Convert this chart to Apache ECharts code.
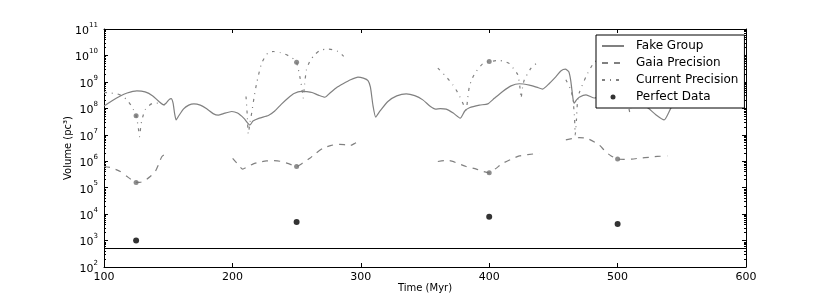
<!DOCTYPE html>
<html>
<head>
<meta charset="utf-8">
<script src="https://cdn.jsdelivr.net/npm/echarts@6/dist/echarts.min.js"></script>
<style>
html,body{margin:0;padding:0;background:#fff;}
#chart{width:830px;height:297px;}
</style>
</head>
<body>
<div id="chart"></div>
<script>
// ---- values (volumes given as log10 of pc^3) ----
const xTicks = [100, 200, 300, 400, 500, 600];
const yTickExponents = [2, 3, 4, 5, 6, 7, 8, 9, 10, 11];
const legendNames = ['Fake Group', 'Gaia Precision', 'Current Precision', 'Perfect Data'];

const fakeGroupLog = [
  [100,8.09],[106,8.28],[112,8.45],[118,8.58],[125.6,8.66],[132,8.62],[138,8.47],[143,8.25],
  [146.3,8.13],[148.5,8.2],[150.5,8.32],[152.3,8.37],[153.8,8.2],[155,7.8],[156.2,7.56],[158,7.7],
  [162,7.98],[166,8.12],[170,8.17],[175,8.12],[180,7.98],[185,7.8],[189,7.74],[193,7.8],
  [199.5,7.88],[204,7.82],[209,7.62],[213.7,7.37],[216,7.52],[221,7.63],[228,7.73],[233,7.9],
  [238,8.15],[243.4,8.39],[248,8.56],[253.8,8.64],[258,8.63],[262,8.6],[267,8.5],[272,8.42],
  [276,8.58],[281,8.78],[286.2,8.93],[292,9.08],[297.8,9.18],[302,9.14],[305.6,9.05],[307.5,8.8],
  [309.5,8.1],[311.6,7.67],[315,7.9],[321.1,8.26],[328,8.47],[335.4,8.55],[342,8.48],[348.3,8.32],
  [354,8.08],[358.2,7.97],[362,7.99],[366.5,7.97],[372,7.82],[377.4,7.63],[381,7.9],[384.6,8.02],
  [392.4,8.12],[398.9,8.17],[404,8.38],[410.5,8.64],[417,8.85],[423.5,8.93],[431.3,8.88],[437,8.8],
  [441.6,8.73],[447,8.95],[452,9.2],[456,9.42],[459.3,9.48],[462,9.38],[463.5,9.05],[465.4,8.32],
  [466.2,8.2],[468,8.32],[470.1,8.42],[475.4,8.51],[482,8.39],[490,8.6],[500,8.8],[510,8.5],
  [518,8.2],[524,8.0],[530,7.75],[536.2,7.56],[541.4,8.0],[548,8.5]
];

const gaiaSegmentsLog = [
  [[100,5.8],[106,5.75],[112.7,5.61],[118,5.42],[122,5.28],[125,5.2],[128,5.2],[132,5.28],
   [136,5.42],[139.9,5.61],[142.5,5.88],[145,6.17],[147,6.24],[149.4,6.22]],
  [[200.2,6.11],[204,5.9],[208,5.7],[212,5.8],[216.3,5.9],[221,5.97],[226.6,6.01],[232,6.02],
   [237,6.0],[243,5.92],[250,5.8],[255,5.94],[260.3,6.11],[265,6.3],[270.6,6.49],[277,6.6],
   [283.6,6.64],[288,6.62],[292,6.6],[295.5,6.68],[299,6.78]],
  [[360,5.99],[365,6.02],[369,6.02],[375,5.93],[382,5.8],[390,5.7],[395,5.62],[400.2,5.56],
   [405,5.72],[410.5,5.92],[417,6.07],[423.5,6.2],[430,6.25],[439,6.3]],
  [[459.7,6.81],[465,6.86],[470.1,6.89],[474,6.88],[477.8,6.83],[485.6,6.62],[490.8,6.35],
   [495,6.2],[499.8,6.08],[505,6.07],[511,6.08],[518,6.12],[524.5,6.15],[531,6.18],[538.7,6.2]]
];

const currentSegmentsLog = [
  [[100,8.6],[105,8.58],[110,8.55],[114,8.47],[117.9,8.32],[121,8.12],[123,7.94],[125,7.72],
   [126.5,7.35],[127.7,6.93],[128.5,7.25],[129.5,7.56],[132,7.94],[135,8.1],[138.5,8.2],
   [142,8.2],[145,8.16],[147.6,8.13]],
  [[210.6,8.45],[211.5,7.8],[212.4,7.03],[213.5,7.4],[215,7.82],[217,8.45],[218.9,8.95],
   [222.8,9.71],[227.9,10.11],[232,10.15],[237,10.11],[241,10.05],[244.8,9.96],[248,9.85],
   [250,9.74],[252.5,9.2],[254,8.8],[255.1,8.39],[256.2,8.9],[257.7,9.46],[260.5,9.8],
   [264.2,10.03],[268,10.18],[273.3,10.24],[278,10.22],[282.3,10.15],[285.5,10.02],[288.8,9.86]],
  [[360,9.52],[366,9.22],[371.7,8.89],[376,8.55],[379.4,8.2],[382,7.94],[383.3,8.4],[384.6,8.83],
   [387,9.15],[389.8,9.39],[395,9.69],[400.2,9.77],[408,9.81],[412,9.77],[415.8,9.69],[419,9.5],
   [422.3,9.27],[423.8,8.85],[424.8,8.39],[426,8.8],[427.4,9.08],[432.6,9.52],[438.5,9.77]],
  [[459.7,9.08],[463.6,8.7],[465.4,8.26],[466.5,7.6],[467,7.0],[468,7.6],[468.7,8.2],[470.1,8.58],
   [475.4,9.2],[480.5,9.65],[486,9.9],[493,10.0],[500,9.85],[505,9.3],[509.6,7.85],[514,9.3],
   [520,9.8],[528,10.05],[538,10.0]]
];

const obsTimes = [125, 250, 400, 500];
const gaiaObsLog = [5.2, 5.8, 5.56, 6.08];
const currentObsLog = [7.72, 9.74, 9.77, 9.85];
const perfectDataVolume = [1000, 5000, 8000, 4200];
const thresholdVolume = 500;

// ---- build ----
const toVol = pts => pts.map(p => [p[0], Math.pow(10, p[1])]);
const FONT = 'DejaVu Sans';
const GREY = '#808080';

const series = [];
series.push({
  name: 'Fake Group', type: 'line', data: toVol(fakeGroupLog), showSymbol: false, symbol: 'none',
  smooth: 0.2, lineStyle: {color: GREY, width: 1.2, type: 'solid'}, itemStyle: {color: GREY}, z: 2
});
gaiaSegmentsLog.forEach(seg => series.push({
  name: 'Gaia Precision', type: 'line', data: toVol(seg), showSymbol: false, symbol: 'none',
  smooth: 0.2, lineStyle: {color: GREY, width: 1.2, type: [6, 6]}, itemStyle: {color: GREY}, z: 2
}));
currentSegmentsLog.forEach(seg => series.push({
  name: 'Current Precision', type: 'line', data: toVol(seg), showSymbol: false, symbol: 'none',
  smooth: 0.2, lineStyle: {color: GREY, width: 1.2, type: [3, 5, 1, 5]}, itemStyle: {color: GREY}, z: 2
}));
series.push({
  name: 'gaiaObs', type: 'scatter', symbolSize: 5, itemStyle: {color: '#707070'},
  data: obsTimes.map((t, i) => [t, Math.pow(10, gaiaObsLog[i])]), z: 3, silent: true
});
series.push({
  name: 'currentObs', type: 'scatter', symbolSize: 5, itemStyle: {color: '#707070'},
  data: obsTimes.map((t, i) => [t, Math.pow(10, currentObsLog[i])]), z: 3, silent: true
});
series.push({
  name: 'Perfect Data', type: 'scatter', symbolSize: 6, itemStyle: {color: '#000'},
  data: obsTimes.map((t, i) => [t, perfectDataVolume[i]]), z: 3
});
series.push({
  name: 'threshold', type: 'line', symbol: 'none', silent: true,
  data: [[xTicks[0], thresholdVolume], [xTicks[xTicks.length - 1], thresholdVolume]],
  lineStyle: {color: '#000', width: 1}, z: 2
});

const yMin = Math.pow(10, yTickExponents[0]);
const yMax = Math.pow(10, yTickExponents[yTickExponents.length - 1]);

const commonX = {
  type: 'value', min: xTicks[0], max: xTicks[xTicks.length - 1], interval: 100,
  axisLine: {lineStyle: {color: '#000', width: 1}},
  axisTick: {inside: true, length: 4, lineStyle: {color: '#000'}},
  splitLine: {show: false}
};
const commonY = {
  type: 'log', logBase: 10, min: yMin, max: yMax,
  axisLine: {show: true, lineStyle: {color: '#000', width: 1}},
  axisTick: {inside: true, length: 4, lineStyle: {color: '#000'}},
  minorTick: {show: true, splitNumber: 9, length: 2, lineStyle: {color: '#000'}},
  splitLine: {show: false}, minorSplitLine: {show: false}
};

const hiddenSymbol = {color: 'rgba(0,0,0,0)', opacity: 0, borderWidth: 0};
const option = {
  animation: false,
  backgroundColor: '#fff',
  textStyle: {fontFamily: FONT},
  grid: {left: 104, right: 84, top: 29, bottom: 30, containLabel: false, outerBoundsMode: 'none'},
  xAxis: [
    Object.assign({}, commonX, {
      position: 'bottom', name: 'Time (Myr)', nameLocation: 'middle', nameGap: 16,
      nameMoveOverlap: false,
      nameTextStyle: {fontFamily: FONT, fontSize: 10, color: '#000'},
      axisLabel: {fontFamily: FONT, fontSize: 11, color: '#000', margin: 5}
    }),
    Object.assign({}, commonX, {position: 'top', axisLabel: {show: false}})
  ],
  yAxis: [
    Object.assign({}, commonY, {
      position: 'left', name: 'Volume (pc³)', nameLocation: 'middle', nameGap: 31,
      nameMoveOverlap: false,
      nameTextStyle: {fontFamily: FONT, fontSize: 10, color: '#000'},
      axisLabel: {
        margin: 6, color: '#000',
        formatter: v => '{b|10}{e|' + Math.round(Math.log10(v)) + '}',
        rich: {
          b: {fontFamily: FONT, fontSize: 11, color: '#000', lineHeight: 15, verticalAlign: 'bottom'},
          e: {fontFamily: FONT, fontSize: 7, color: '#000', lineHeight: 15, verticalAlign: 'top'}
        }
      }
    }),
    Object.assign({}, commonY, {position: 'right', axisLabel: {show: false}})
  ],
  legend: {
    data: [
      {name: legendNames[0], itemStyle: hiddenSymbol},
      {name: legendNames[1], itemStyle: hiddenSymbol},
      {name: legendNames[2], itemStyle: hiddenSymbol},
      {name: legendNames[3]}
    ],
    orient: 'vertical', left: 596, top: 35,
    padding: [5, 6, 5, 5], itemWidth: 22, itemHeight: 5, itemGap: 5,
    backgroundColor: '#fff', borderColor: '#000', borderWidth: 1, borderRadius: 0,
    textStyle: {fontFamily: FONT, fontSize: 12, color: '#000', lineHeight: 12, padding: [0, 0, 0, 7]},
    z: 10
  },
  series: series
};

const chart = echarts.init(document.getElementById('chart'), null, {renderer: 'canvas'});
chart.setOption(option);
</script>
</body>
</html>
